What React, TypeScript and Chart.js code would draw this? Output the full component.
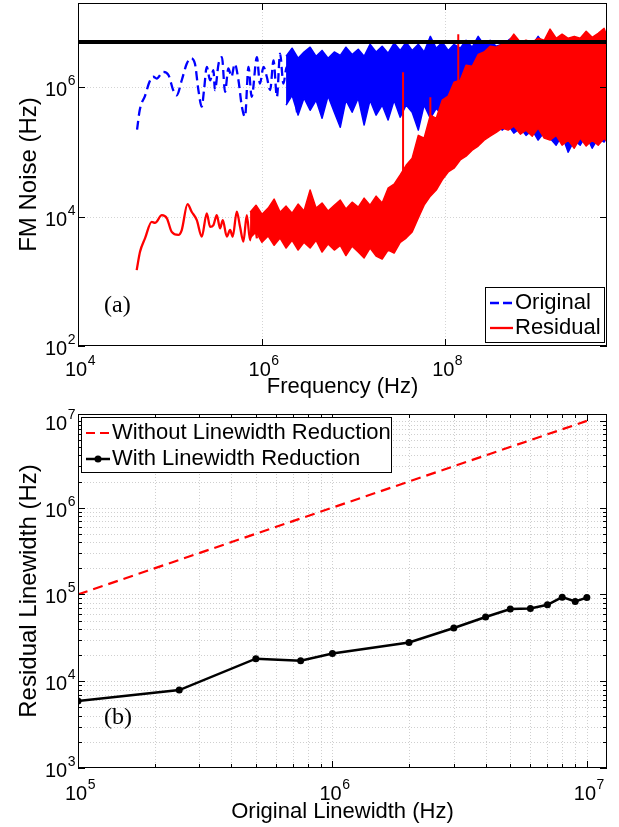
import React, { useEffect, useRef } from 'react';
import { Chart, registerables } from 'chart.js';

Chart.register(...registerables);

const FONT = '"Liberation Sans", Arial, Helvetica, sans-serif';
const SERIF = '"Liberation Serif", "Times New Roman", Times, serif';

// ---------------- Panel (a): FM noise spectra ----------------
// Original (blue dashed) – resolvable low-frequency part
const originalLowFreq = [4.4e4, 4.7e4, 5.4e4, 6.0e4, 6.6e4, 7.2e4, 8.5e4, 9.7e4, 1.09e5, 1.19e5, 1.35e5, 1.53e5, 1.69e5, 1.88e5, 2.05e5, 2.23e5, 2.36e5, 2.53e5, 2.75e5, 2.99e5, 3.1e5, 3.4e5, 3.7e5, 4.0e5, 4.35e5, 4.7e5, 5.1e5, 5.6e5, 6.1e5, 6.6e5, 7.2e5, 7.8e5, 8.9e5, 9.6e5, 1.05e6, 1.14e6, 1.24e6, 1.35e6, 1.47e6, 1.59e6, 1.73e6, 1.88e6, 2.05e6, 2.2e6, 2.46e6, 2.63e6, 2.98e6, 3.24e6];
const originalLowNoise = [2.2e5, 4.4e5, 7.5e5, 1.2e6, 1.45e6, 1.36e6, 1.73e6, 1.53e6, 9.0e5, 7.5e5, 1.28e6, 2.3e6, 2.8e6, 2.3e6, 9.0e5, 5.0e5, 9.0e5, 2.06e6, 1.28e6, 1.83e6, 9.0e5, 2.3e6, 2.9e6, 8.5e5, 1.95e6, 1.45e6, 2.3e6, 1.28e6, 5.0e5, 3.5e5, 2.06e6, 7.1e5, 2.9e6, 1.14e6, 2.06e6, 1.45e6, 9.0e5, 2.6e6, 7.1e5, 3.3e6, 1.14e6, 2.06e6, 1.63e6, 2.6e6, 3.9e5, 3.1e6, 7.1e5, 3.3e6];
// Original – dense high-frequency part: upper / lower envelope of the noise
const originalBandFreq = [1.85e6, 2.15e6, 2.5e6, 2.9e6, 3.38e6, 3.93e6, 4.56e6, 5.3e6, 6.2e6, 7.2e6, 8.3e6, 9.7e6, 1.13e7, 1.31e7, 1.52e7, 1.77e7, 2.06e7, 2.39e7, 2.78e7, 3.24e7, 3.76e7, 4.37e7, 5.1e7, 5.9e7, 6.9e7, 8.0e7, 9.3e7, 1.08e8, 1.25e8, 1.46e8, 1.69e8, 1.97e8, 2.29e8, 2.66e8, 3.09e8, 3.6e8, 4.18e8, 4.86e8, 5.6e8, 6.6e8, 7.6e8, 8.9e8, 1.03e9, 1.2e9, 1.39e9, 1.62e9, 1.88e9, 2.19e9, 2.55e9, 2.96e9, 3.44e9, 4.0e9, 4.65e9, 5.4e9, 5.8e9];
const originalBandUpper = [3.0e6, 4.0e6, 2.8e6, 3.5e6, 4.15e6, 3.0e6, 3.7e6, 2.8e6, 3.5e6, 3.1e6, 4.15e6, 3.2e6, 3.86e6, 3.0e6, 4.6e6, 3.5e6, 4.3e6, 3.35e6, 4.8e6, 3.7e6, 4.95e6, 3.7e6, 4.6e6, 3.5e6, 6.1e6, 4.0e6, 4.95e6, 3.7e6, 4.6e6, 4.0e6, 5.3e6, 4.15e6, 6.1e6, 4.45e6, 5.3e6, 4.3e6, 4.6e6, 5.3e6, 6.1e6, 4.6e6, 4.95e6, 4.45e6, 6.1e6, 4.6e6, 4.6e6, 4.6e6, 4.6e6, 4.6e6, 4.6e6, 4.6e6, 4.6e6, 4.6e6, 4.6e6, 4.6e6, 4.6e6];
const originalBandLower = [5.3e5, 7.5e5, 3.7e5, 6.8e5, 4.4e5, 6.3e5, 3.3e5, 7.3e5, 4.1e5, 2.4e5, 6.3e5, 4.1e5, 6.8e5, 2.6e5, 6.3e5, 3.7e5, 5.3e5, 3.1e5, 6.3e5, 3.44e5, 5.3e5, 4.1e5, 2.17e5, 5.3e5, 3.3e5, 4.7e5, 3.7e5, 4.4e5, 3.3e5, 4.1e5, 3.1e5, 3.7e5, 2.9e5, 3.3e5, 2.6e5, 3.1e5, 2.17e5, 2.6e5, 1.95e5, 2.33e5, 1.8e5, 2.17e5, 1.52e5, 2.0e5, 1.63e5, 1.27e5, 1.8e5, 9.9e4, 1.52e5, 1.27e5, 1.8e5, 1.14e5, 1.63e5, 1.42e5, 1.75e5];

// Residual (red) – resolvable low-frequency part
const residualLowFreq = [4.36e4, 4.74e4, 5.37e4, 6.35e4, 6.9e4, 8.2e4, 9.3e4, 1.05e5, 1.24e5, 1.35e5, 1.56e5, 1.73e5, 1.97e5, 2.23e5, 2.53e5, 2.75e5, 2.99e5, 3.25e5, 3.53e5, 3.78e5, 4.18e5, 4.54e5, 4.85e5, 5.37e5, 5.83e5, 6.34e5, 6.9e5, 7.5e5, 8.1e5, 8.9e5];
const residualLowNoise = [1.49e3, 2.86e3, 4.6e3, 8.3e3, 8.0e3, 1.05e4, 9.4e3, 5.8e3, 5.2e3, 6.2e3, 1.56e4, 1.19e4, 8.8e3, 4.9e3, 1.12e4, 6.95e3, 7.4e3, 1.05e4, 6.6e3, 8.8e3, 4.9e3, 6.2e3, 4.9e3, 1.19e4, 6.95e3, 4.1e3, 1.05e4, 4.3e3, 9.9e3, 4.6e3];
// Residual – dense part: upper / lower envelope
const residualBandFreq = [7.5e5, 8.7e5, 1.01e6, 1.18e6, 1.37e6, 1.59e6, 1.85e6, 2.15e6, 2.5e6, 2.9e6, 3.38e6, 3.93e6, 4.56e6, 5.3e6, 6.2e6, 7.2e6, 8.3e6, 9.7e6, 1.13e7, 1.31e7, 1.52e7, 1.77e7, 2.06e7, 2.39e7, 2.78e7, 3.24e7, 3.76e7, 4.37e7, 5.1e7, 5.9e7, 6.9e7, 8.0e7, 9.3e7, 1.08e8, 1.25e8, 1.46e8, 1.69e8, 1.97e8, 2.29e8, 2.66e8, 3.09e8, 3.6e8, 4.18e8, 4.86e8, 5.6e8, 6.6e8, 7.6e8, 8.9e8, 1.03e9, 1.2e9, 1.39e9, 1.62e9, 1.88e9, 2.19e9, 2.55e9, 2.96e9, 3.44e9, 4.0e9, 4.65e9, 5.4e9, 5.8e9];
const residualBandUpper = [1.17e4, 1.5e4, 1.09e4, 1.35e4, 1.86e4, 1.17e4, 1.45e4, 1.13e4, 1.56e4, 1.22e4, 2.57e4, 1.35e4, 1.62e4, 1.22e4, 1.5e4, 1.8e4, 1.31e4, 1.67e4, 1.4e4, 1.93e4, 1.5e4, 2.07e4, 1.62e4, 2.75e4, 3.18e4, 4.4e4, 6.2e4, 8.0e4, 1.8e5, 1.63e5, 3.7e5, 3.3e5, 6.3e5, 7.3e5, 1.19e6, 1.28e6, 2.19e6, 2.1e6, 3.2e6, 3.5e6, 4.3e6, 4.15e6, 4.6e6, 4.95e6, 6.6e6, 4.95e6, 5.3e6, 4.95e6, 5.7e6, 5.3e6, 7.9e6, 5.7e6, 6.6e6, 5.7e6, 6.1e6, 5.7e6, 7.3e6, 5.9e6, 6.8e6, 8.1e6, 6.1e6];
const residualBandLower = [4.66e3, 5.8e3, 4.0e3, 5.0e3, 3.6e3, 4.66e3, 3.27e3, 4.3e3, 3.04e3, 4.0e3, 3.27e3, 4.3e3, 2.83e3, 3.76e3, 3.04e3, 3.6e3, 2.5e3, 3.5e3, 2.83e3, 2.3e3, 3.27e3, 2.45e3, 2.21e3, 3.04e3, 2.73e3, 4.0e3, 4.66e3, 5.8e3, 9.5e3, 1.5e4, 2.07e4, 2.57e4, 3.7e4, 4.9e4, 5.6e4, 7.5e4, 8.6e4, 1.06e5, 1.23e5, 1.52e5, 1.75e5, 2.0e5, 2.33e5, 2.17e5, 2.5e5, 1.88e5, 2.17e5, 1.75e5, 2.33e5, 1.63e5, 1.52e5, 1.8e5, 1.27e5, 1.52e5, 1.14e5, 1.63e5, 1.23e5, 1.52e5, 1.27e5, 1.63e5, 1.42e5];
// Residual – isolated spurs (null separates the spurs)
const residualSpurFreq = [3.48e7, 3.48e7, 5.0e7, 6.9e7, 6.9e7, 1.0e8, 1.39e8, 1.39e8];
const residualSpurNoise = [4.0e4, 1.7e6, null, 3.0e5, 7.0e5, null, 1.2e6, 6.6e6];

// Horizontal reference level
const levelFreq = [1e4, 5.8e9];
const levelNoise = [5e6, 5e6];

const freqTicks = [1e4, 1e6, 1e8];
const noiseTicks = [1e2, 1e4, 1e6];

// ---------------- Panel (b): linewidth ----------------
const originalLinewidth = [1e5, 2.5e5, 5e5, 7.5e5, 1e6, 2e6, 3e6, 4e6, 5e6, 6e6, 7e6, 8e6, 9e6, 1e7];
const residualLinewidth = [5.9e3, 7.9e3, 1.82e4, 1.72e4, 2.09e4, 2.8e4, 4.1e4, 5.5e4, 6.8e4, 6.9e4, 7.6e4, 9.3e4, 8.3e4, 9.2e4];
const withoutX = [1e5, 1e7];
const withoutY = [1e5, 1e7];
const lwTicksX = [1e5, 1e6, 1e7];
const lwTicksY = [1e3, 1e4, 1e5, 1e6, 1e7];

// ---------------- helpers ----------------
function minorValues(lo: number, hi: number): number[] {
  const out: number[] = [];
  for (let d = Math.floor(Math.log10(lo)); d <= Math.ceil(Math.log10(hi)); d++) {
    for (let m = 2; m <= 9; m++) {
      const v = m * Math.pow(10, d);
      if (v > lo * 1.0001 && v < hi * 0.9999) out.push(v);
    }
  }
  return out;
}
function pts(xs: number[], ys: (number | null)[]) {
  return xs.map((x, i) => ({ x, y: ys[i] }));
}
function expOf(v: number): string {
  return String(Math.round(Math.log10(v)));
}

const framePlugin: any = {
  id: 'frame',
  beforeDatasetsDraw(chart: any, _args: any, o: any) {
    const { ctx, chartArea: a } = chart;
    const xs = chart.scales.x;
    const ys = chart.scales.y;
    ctx.save();
    ctx.beginPath();
    ctx.rect(a.left, a.top, a.right - a.left, a.bottom - a.top);
    ctx.clip();
    ctx.strokeStyle = o.gridColor;
    ctx.lineWidth = 1;
    ctx.setLineDash(o.gridDash);
    ctx.beginPath();
    for (const v of o.gridX) {
      const p = Math.round(xs.getPixelForValue(v)) + 0.5;
      ctx.moveTo(p, a.top);
      ctx.lineTo(p, a.bottom);
    }
    for (const v of o.gridY) {
      const p = Math.round(ys.getPixelForValue(v)) + 0.5;
      ctx.moveTo(a.left, p);
      ctx.lineTo(a.right, p);
    }
    ctx.stroke();
    ctx.restore();
  },
  afterDatasetsDraw(chart: any, _args: any, o: any) {
    const { ctx, chartArea: a } = chart;
    const xs = chart.scales.x;
    const ys = chart.scales.y;
    ctx.save();
    ctx.setLineDash([]);
    ctx.strokeStyle = '#000';
    ctx.lineWidth = 1;
    ctx.strokeRect(a.left + 0.5, a.top + 0.5, a.right - a.left - 1, a.bottom - a.top - 1);
    ctx.beginPath();
    const tx = (vals: number[], len: number) => {
      for (const v of vals) {
        const p = Math.round(xs.getPixelForValue(v)) + 0.5;
        ctx.moveTo(p, a.bottom);
        ctx.lineTo(p, a.bottom - len);
        ctx.moveTo(p, a.top);
        ctx.lineTo(p, a.top + len);
      }
    };
    const ty = (vals: number[], len: number) => {
      for (const v of vals) {
        const p = Math.round(ys.getPixelForValue(v)) + 0.5;
        ctx.moveTo(a.left, p);
        ctx.lineTo(a.left + len, p);
        ctx.moveTo(a.right, p);
        ctx.lineTo(a.right - len, p);
      }
    };
    tx(o.majorX, o.majorLen);
    ty(o.majorY, o.majorLen);
    tx(o.minorX, o.minorLen);
    ty(o.minorY, o.minorLen);
    ctx.stroke();

    // power-of-ten tick labels (base "10" + raised exponent)
    const baseFont = `20px ${FONT}`;
    const expFont = `14px ${FONT}`;
    const drawPow = (v: number, px: number, py: number, align: string) => {
      const e = expOf(v);
      ctx.font = baseFont;
      const wb = ctx.measureText('10').width;
      ctx.font = expFont;
      const we = ctx.measureText(e).width;
      const x0 = align === 'center' ? px - (wb + we) / 2 : px - wb - we;
      ctx.fillStyle = '#000';
      ctx.textAlign = 'left';
      ctx.textBaseline = 'alphabetic';
      ctx.font = baseFont;
      ctx.fillText('10', x0, py);
      ctx.font = expFont;
      ctx.fillText(e, x0 + wb + 0.5, py - 11);
    };
    for (const v of o.majorX) drawPow(v, xs.getPixelForValue(v) + 2, a.bottom + o.xLabelDy, 'center');
    for (const v of o.majorY) drawPow(v, a.left - 3, ys.getPixelForValue(v) + 9, 'right');

    // panel tag
    ctx.fillStyle = '#000';
    ctx.font = `24px ${SERIF}`;
    ctx.textAlign = 'left';
    ctx.textBaseline = 'middle';
    ctx.fillText(o.tag, a.left + o.tagDx, a.bottom - o.tagDy);

    // legend
    const lg = o.legend;
    const bx = Math.round(lg.corner === 'br' ? a.right - lg.dx - lg.w : a.left + lg.dx);
    const by = Math.round(lg.corner === 'br' ? a.bottom - lg.dy - lg.h : a.top + lg.dy);
    ctx.fillStyle = '#fff';
    ctx.fillRect(bx, by, lg.w, lg.h);
    ctx.strokeStyle = '#000';
    ctx.lineWidth = 1;
    ctx.strokeRect(bx + 0.5, by + 0.5, lg.w, lg.h);
    lg.items.forEach((it: any, i: number) => {
      const ds = chart.data.datasets[it.dataset];
      const cy = by + lg.row0 + i * lg.rowGap;
      ctx.strokeStyle = ds.borderColor;
      ctx.lineWidth = ds.borderWidth;
      ctx.setLineDash(it.dash || []);
      ctx.beginPath();
      ctx.moveTo(bx + lg.s0, cy);
      ctx.lineTo(bx + lg.s1, cy);
      ctx.stroke();
      ctx.setLineDash([]);
      if (ds.pointRadius > 0) {
        ctx.fillStyle = ds.pointBackgroundColor;
        ctx.beginPath();
        ctx.arc(bx + (lg.s0 + lg.s1) / 2, cy, ds.pointRadius, 0, Math.PI * 2);
        ctx.fill();
      }
      ctx.fillStyle = '#000';
      ctx.font = `22px ${FONT}`;
      ctx.textAlign = 'left';
      ctx.textBaseline = 'middle';
      ctx.fillText(ds.label, bx + lg.tx, cy);
    });
    ctx.restore();
  },
};

function axis(opts: any) {
  const isX = opts.isX;
  return {
    type: 'logarithmic',
    min: opts.min,
    max: opts.max,
    afterBuildTicks: (s: any) => {
      s.ticks = opts.ticks.map((v: number) => ({ value: v }));
    },
    afterFit: (s: any) => {
      if (isX) {
        s.height = opts.size;
        s.paddingLeft = 0;
        s.paddingRight = 0;
      } else {
        s.width = opts.size;
        s.paddingTop = 0;
        s.paddingBottom = 0;
      }
    },
    grid: { display: false },
    border: { display: false },
    ticks: { display: false },
    title: {
      display: true,
      text: opts.title,
      color: '#000',
      font: { family: FONT, size: opts.titleSize, lineHeight: 1.2 },
      padding: opts.titlePad,
    },
  };
}

function topConfig(): any {
  return {
    type: 'line',
    data: {
      datasets: [
        { label: 'Level', data: pts(levelFreq, levelNoise), borderColor: '#000', borderWidth: 4, pointRadius: 0, fill: false },
        { label: 'Residual', data: pts(residualLowFreq, residualLowNoise), borderColor: '#ff0000', borderWidth: 2.3, pointRadius: 0, fill: false, cubicInterpolationMode: 'monotone', borderJoinStyle: 'round' },
        { label: 'Residual (spurs)', data: pts(residualSpurFreq, residualSpurNoise), borderColor: '#ff0000', borderWidth: 2, pointRadius: 0, fill: false, spanGaps: false },
        { label: 'Residual (dense upper)', data: pts(residualBandFreq, residualBandUpper), borderColor: '#ff0000', backgroundColor: '#ff0000', borderWidth: 1.5, pointRadius: 0, fill: '+1', borderJoinStyle: 'round' },
        { label: 'Residual (dense lower)', data: pts(residualBandFreq, residualBandLower), borderColor: '#ff0000', borderWidth: 1.5, pointRadius: 0, fill: false, borderJoinStyle: 'round' },
        { label: 'Original', data: pts(originalLowFreq, originalLowNoise), borderColor: '#0000ff', borderWidth: 2.3, borderDash: [9, 5], pointRadius: 0, fill: false, cubicInterpolationMode: 'monotone', borderJoinStyle: 'round' },
        { label: 'Original (dense upper)', data: pts(originalBandFreq, originalBandUpper), borderColor: '#0000ff', backgroundColor: '#0000ff', borderWidth: 1.5, pointRadius: 0, fill: '+1', borderJoinStyle: 'round' },
        { label: 'Original (dense lower)', data: pts(originalBandFreq, originalBandLower), borderColor: '#0000ff', borderWidth: 1.5, pointRadius: 0, fill: false, borderJoinStyle: 'round' },
      ],
    },
    options: {
      responsive: false,
      animation: false,
      events: [],
      layout: { padding: { top: 3, right: 12, left: 0, bottom: 0 } },
      scales: {
        x: axis({ isX: true, min: 1e4, max: 5.8e9, ticks: freqTicks, size: 54, title: 'Frequency (Hz)', titleSize: 22, titlePad: { top: 0, bottom: 0 } }),
        y: axis({ isX: false, min: 1e2, max: 2e7, ticks: noiseTicks, size: 78, title: 'FM Noise (Hz)', titleSize: 24, titlePad: { top: 15, bottom: 0 } }),
      },
      plugins: {
        legend: { display: false },
        tooltip: { enabled: false },
        frame: {
          gridColor: '#d4d4d4',
          gridDash: [1, 2],
          gridX: [1e6, 1e8],
          gridY: [1e4, 1e6],
          majorX: freqTicks,
          majorY: noiseTicks,
          minorX: [],
          minorY: [],
          majorLen: 7,
          minorLen: 4,
          xLabelDy: 30,
          tag: '(a)',
          tagDx: 26,
          tagDy: 40,
          legend: {
            corner: 'br', dx: 3, dy: 4, w: 119, h: 55, row0: 16, rowGap: 25, s0: 5, s1: 28, tx: 30,
            items: [{ dataset: 5, dash: [9, 4] }, { dataset: 1 }],
          },
        },
      },
    },
    plugins: [framePlugin],
  };
}

function bottomConfig(): any {
  return {
    type: 'line',
    data: {
      datasets: [
        { label: 'With Linewidth Reduction', data: pts(originalLinewidth, residualLinewidth), borderColor: '#000', borderWidth: 2.5, pointRadius: 3.5, pointBackgroundColor: '#000', pointBorderColor: '#000', pointBorderWidth: 0, fill: false },
        { label: 'Without Linewidth Reduction', data: pts(withoutX, withoutY), borderColor: '#ff0000', borderWidth: 2.2, borderDash: [10, 6], pointRadius: 0, fill: false },
      ],
    },
    options: {
      responsive: false,
      animation: false,
      events: [],
      layout: { padding: { top: 19, right: 12, left: 0, bottom: 0 } },
      scales: {
        x: axis({ isX: true, min: 1e5, max: 1.2e7, ticks: lwTicksX, size: 59, title: 'Original Linewidth (Hz)', titleSize: 22, titlePad: { top: 0, bottom: 2 } }),
        y: axis({ isX: false, min: 1e3, max: 1.2e7, ticks: lwTicksY, size: 78, title: 'Residual Linewidth (Hz)', titleSize: 24, titlePad: { top: 15, bottom: 0 } }),
      },
      plugins: {
        legend: { display: false },
        tooltip: { enabled: false },
        frame: {
          gridColor: '#cfcfcf',
          gridDash: [1, 2],
          gridX: [...lwTicksX, ...minorValues(1e5, 1.2e7)],
          gridY: [...lwTicksY, ...minorValues(1e3, 1.2e7)],
          majorX: lwTicksX,
          majorY: lwTicksY,
          minorX: minorValues(1e5, 1.2e7),
          minorY: minorValues(1e3, 1.2e7),
          majorLen: 7,
          minorLen: 4,
          xLabelDy: 32,
          tag: '(b)',
          tagDx: 26,
          tagDy: 50,
          legend: {
            corner: 'tl', dx: 3, dy: 3, w: 310, h: 55, row0: 16, rowGap: 26, s0: 5, s1: 29, tx: 31,
            items: [{ dataset: 1, dash: [9, 5] }, { dataset: 0 }],
          },
        },
      },
    },
    plugins: [framePlugin],
  };
}

function ChartCanvas({ make, top, height }: { make: () => any; top: number; height: number }) {
  const ref = useRef<HTMLCanvasElement>(null);
  useEffect(() => {
    const chart = new Chart(ref.current as HTMLCanvasElement, make());
    return () => chart.destroy();
  }, []);
  return (
    <canvas
      ref={ref}
      width={619}
      height={height}
      style={{ position: 'absolute', left: 0, top, width: 619, height, display: 'block' }}
    />
  );
}

export default function App() {
  return (
    <div style={{ position: 'absolute', left: 0, top: 0, width: 619, height: 827, background: '#fff' }}>
      <ChartCanvas make={topConfig} top={0} height={400} />
      <ChartCanvas make={bottomConfig} top={395} height={432} />
    </div>
  );
}
